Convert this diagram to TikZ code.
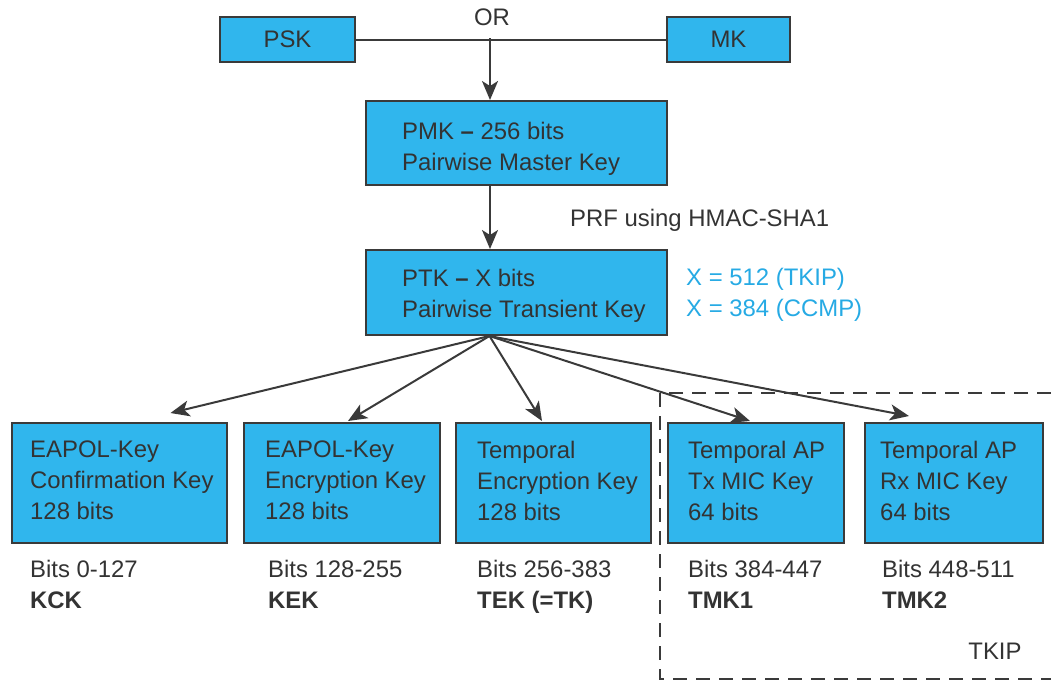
\documentclass[tikz,border=0pt]{standalone}
\usepackage{fontspec}
\setmainfont{Liberation Sans}
\usetikzlibrary{arrows.meta}
\definecolor{keyblue}{RGB}{48,182,237}
\definecolor{edge}{RGB}{58,58,58}
\definecolor{ink}{RGB}{51,51,51}
\definecolor{note}{RGB}{38,170,228}

\begin{document}
\begin{tikzpicture}[x=1pt,y=-1pt,
  every node/.style={font=\fontsize{23.9}{31}\selectfont, text=ink},
  keybox/.style={draw=edge, line width=2pt, fill=keyblue, rectangle, inner sep=0pt},
  keytext/.style={anchor=north west, align=left, inner sep=0pt},
  bitline/.style={anchor=base west, inner sep=0pt},
  arr/.style={draw=edge, line width=2pt, -{Stealth[length=19pt,width=16pt,inset=5pt]}},
  region/.style={draw=edge, line width=1.6pt, dash pattern=on 14pt off 9pt}
]
\useasboundingbox (0,0) rectangle (1051,681);

% source keys
\node[keybox, minimum width=135pt, minimum height=45pt] (psk) at (287.5,39.5) {PSK};
\node[keybox, minimum width=123pt, minimum height=45pt] (mk) at (728.5,39.5) {MK};
\node[inner sep=0pt] (or) at (492,17) {OR};
\coordinate (j) at (490,38);

% master and transient keys
\node[keybox, minimum width=301pt, minimum height=84pt] (pmk) at (516.5,143) {};
\node[keytext] (pmkt) at (402,121.7) {PMK \textbf{–} 256 bits\\Pairwise Master Key};
\node[keybox, minimum width=301pt, minimum height=85pt] (ptk) at (516.5,292.5) {};
\node[keytext] (ptkt) at (402,268.7) {PTK \textbf{–} X bits\\Pairwise Transient Key};
\node[bitline] (prf) at (570,226.5) {PRF using HMAC-SHA1};
\node[bitline, text=note] (x1) at (686,285.5) {X = 512 (TKIP)};
\node[bitline, text=note] (x2) at (686,316.5) {X = 384 (CCMP)};

% derived keys
\node[keybox, minimum width=215pt, minimum height=120pt] (kck) at (119.5,483) {};
\node[keytext] (kckt) at (30,441) {EAPOL-Key\\Confirmation Key\\128 bits};
\node[keybox, minimum width=196pt, minimum height=120pt] (kek) at (342,483) {};
\node[keytext] (kekt) at (265,441) {EAPOL-Key\\Encryption Key\\128 bits};
\node[keybox, minimum width=195pt, minimum height=120pt] (tek) at (553,483) {};
\node[keytext] (tekt) at (477,441) {Temporal\\Encryption Key\\128 bits};
\node[keybox, minimum width=176pt, minimum height=120pt] (tmka) at (756,483) {};
\node[keytext] (tmkat) at (688,441) {Temporal AP\\Tx MIC Key\\64 bits};
\node[keybox, minimum width=178pt, minimum height=120pt] (tmkb) at (954,483) {};
\node[keytext] (tmkbt) at (880,441) {Temporal AP\\Rx MIC Key\\64 bits};

% bit ranges and short names
\node[bitline] (r1) at (30,577.5) {Bits 0-127};
\node[bitline] (n1) at (30,608.5) {\textbf{KCK}};
\node[bitline] (r2) at (268,577.5) {Bits 128-255};
\node[bitline] (n2) at (268,608.5) {\textbf{KEK}};
\node[bitline] (r3) at (477,577.5) {Bits 256-383};
\node[bitline] (n3) at (477,608.5) {\textbf{TEK (=TK)}};
\node[bitline] (r4) at (688,577.5) {Bits 384-447};
\node[bitline] (n4) at (688,608.5) {\textbf{TMK1}};
\node[bitline] (r5) at (882,577.5) {Bits 448-511};
\node[bitline] (n5) at (882,608.5) {\textbf{TMK2}};

% TKIP-only region
\node[inner sep=0pt] (tkip) at (995,651) {TKIP};
\draw[region] (1051,393) -- (660,393) -- (660,679) -- (1051,679);

% connectors
\draw[draw=edge, line width=2pt] (psk.east) -- (mk.west);
\draw[arr] (j) -- (pmk.north -| j);
\draw[arr] ([xshift=-26.5pt]pmk.south) -- ([xshift=-26.5pt]ptk.north);
\coordinate (fan) at ([xshift=-27pt]ptk.south);
\draw[arr] (fan) -- ([xshift=51pt,yshift=9pt]kck.north);
\draw[arr] (fan) -- ([xshift=6pt,yshift=1pt]kek.north);
\draw[arr] (fan) -- ([xshift=-11pt,yshift=1pt]tek.north);
\draw[arr] (fan) -- ([xshift=-6pt,yshift=1pt]tmka.north);
\draw[arr] (fan) -- ([xshift=-45pt,yshift=6pt]tmkb.north);
\end{tikzpicture}
\end{document}
